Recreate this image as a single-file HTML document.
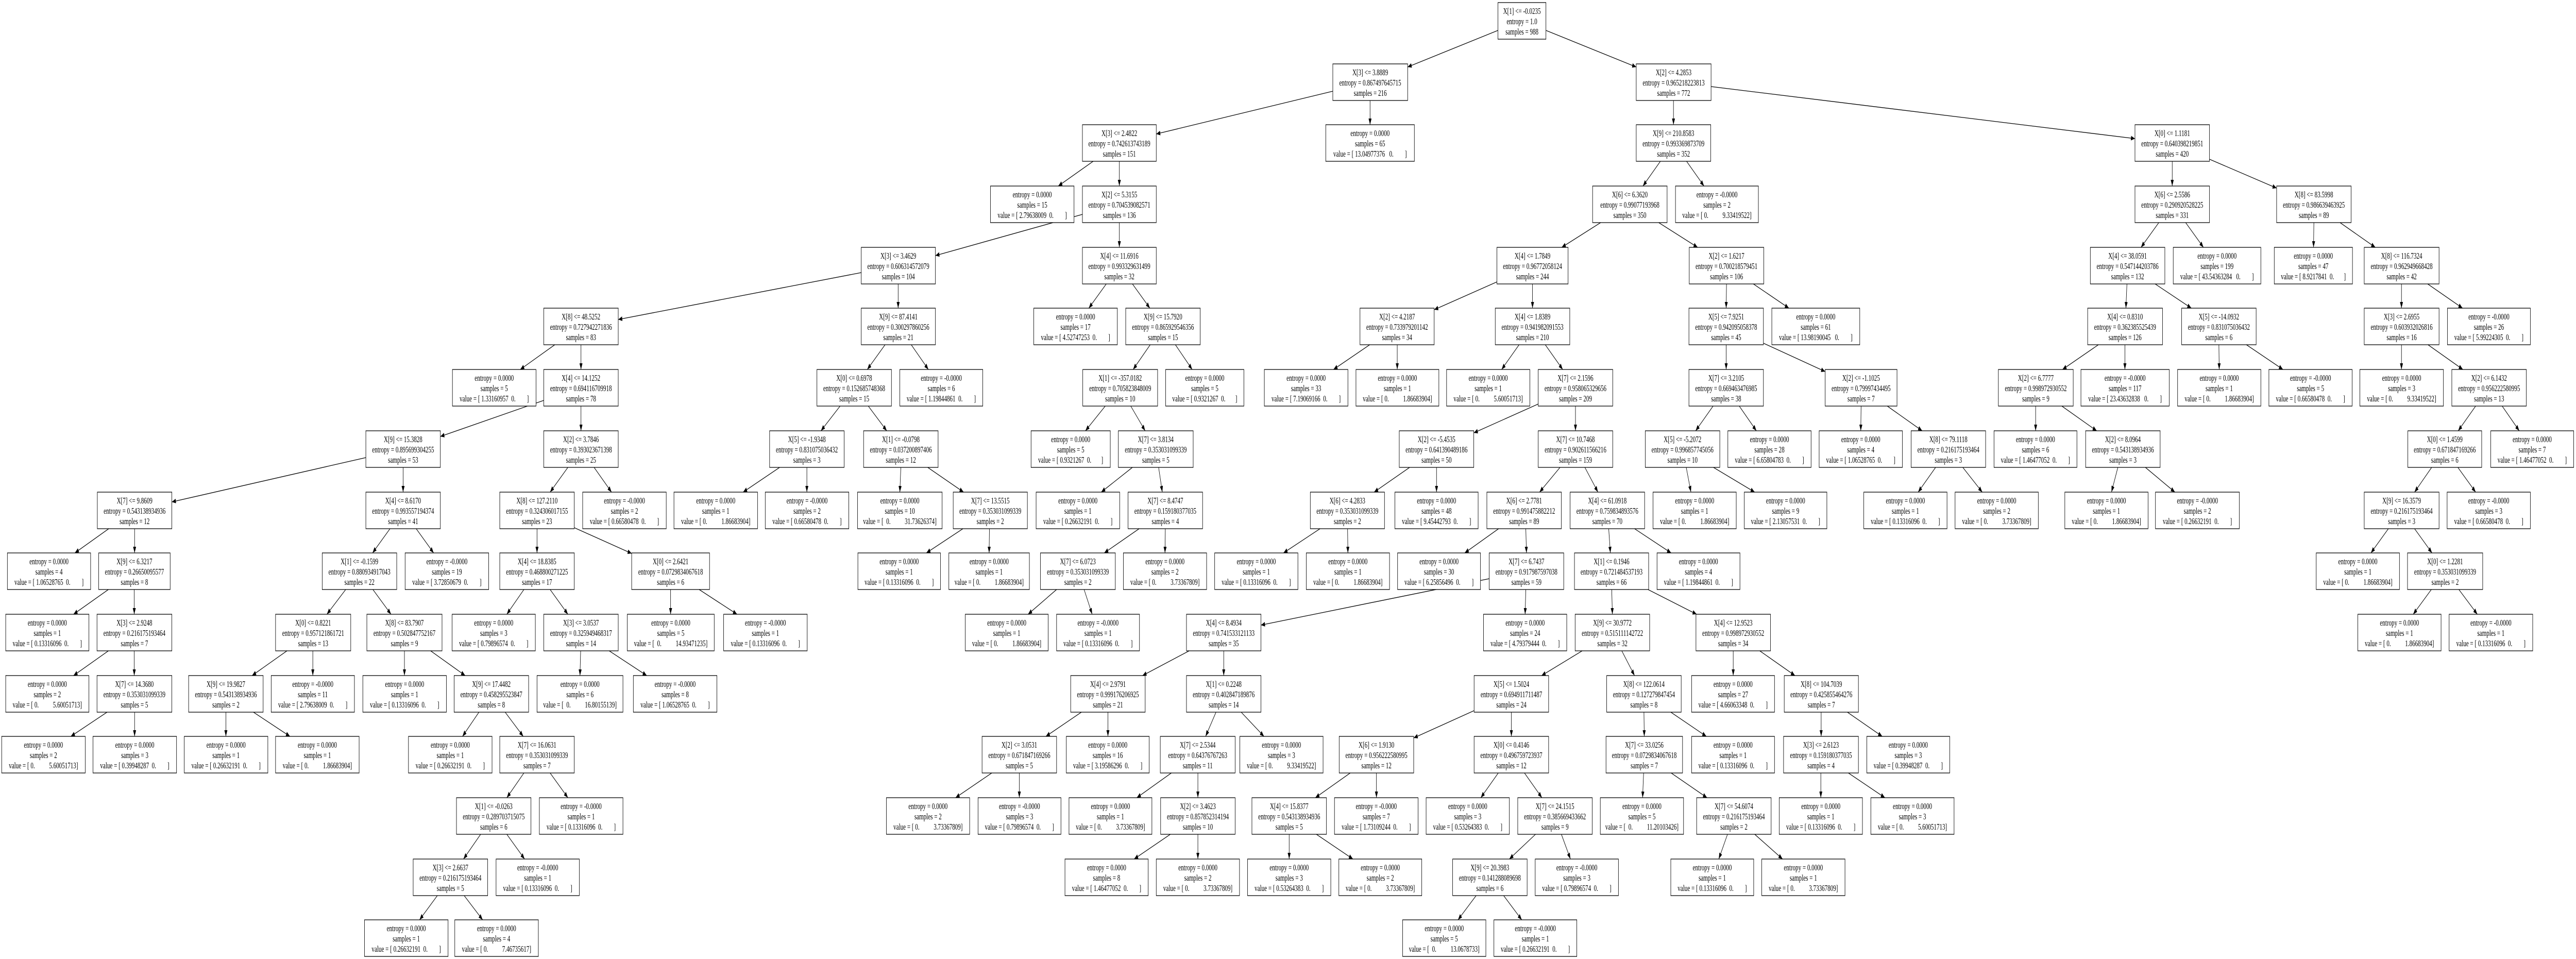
<!DOCTYPE html>
<html><head><meta charset="utf-8">
<style>
html,body{margin:0;padding:0;background:#fff;width:100vw;height:100vh;overflow:hidden;}
#root{display:block;position:fixed;left:0;top:0;width:100vw;height:100vh;}
svg svg{overflow:visible;}
text{font-family:"Liberation Serif","Times New Roman",serif;font-size:17px;text-anchor:middle;fill:#000;white-space:pre;}
rect{fill:#fff;stroke:#000;stroke-width:1.3;}
line{stroke:#000;stroke-width:1.3;}
</style></head>
<body>
<svg id="root" xmlns="http://www.w3.org/2000/svg" viewBox="0 0 7675 1861" preserveAspectRatio="none" xml:space="preserve">
<defs><marker id="a" viewBox="0 0 10 10" refX="10" refY="5" markerWidth="12" markerHeight="9" markerUnits="userSpaceOnUse" orient="auto" preserveAspectRatio="none"><path d="M0,0L10,5L0,10z" fill="#000"/></marker></defs>
<rect x="0" y="0" width="7675" height="1861" style="fill:#fff;stroke:none"/>
<g marker-end="url(#a)">
<line x1="4463" y1="59" x2="4194" y2="130"/>
<line x1="4606" y1="59" x2="4875" y2="130"/>
<line x1="3971" y1="177" x2="3445" y2="260"/>
<line x1="4082" y1="195" x2="4082" y2="242"/>
<line x1="4986" y1="195" x2="4986" y2="242"/>
<line x1="5098" y1="168" x2="6361" y2="269"/>
<line x1="3257" y1="313" x2="3153" y2="361"/>
<line x1="3335" y1="313" x2="3335" y2="361"/>
<line x1="4947" y1="313" x2="4895" y2="361"/>
<line x1="5025" y1="313" x2="5077" y2="361"/>
<line x1="6472" y1="313" x2="6472" y2="361"/>
<line x1="6583" y1="309" x2="6783" y2="365"/>
<line x1="3225" y1="416" x2="2787" y2="496"/>
<line x1="3335" y1="432" x2="3335" y2="480"/>
<line x1="4769" y1="432" x2="4653" y2="480"/>
<line x1="4942" y1="432" x2="5058" y2="480"/>
<line x1="6432" y1="432" x2="6379" y2="480"/>
<line x1="6512" y1="432" x2="6565" y2="480"/>
<line x1="6894" y1="432" x2="6893" y2="480"/>
<line x1="6972" y1="432" x2="7077" y2="480"/>
<line x1="2566" y1="529" x2="1842" y2="620"/>
<line x1="2676" y1="551" x2="2676" y2="598"/>
<line x1="3296" y1="551" x2="3244" y2="598"/>
<line x1="3374" y1="551" x2="3426" y2="598"/>
<line x1="4460" y1="547" x2="4273" y2="601"/>
<line x1="4566" y1="551" x2="4566" y2="598"/>
<line x1="5144" y1="551" x2="5143" y2="598"/>
<line x1="5224" y1="551" x2="5330" y2="598"/>
<line x1="6337" y1="551" x2="6334" y2="598"/>
<line x1="6421" y1="551" x2="6529" y2="598"/>
<line x1="7155" y1="551" x2="7155" y2="598"/>
<line x1="7233" y1="551" x2="7337" y2="598"/>
<line x1="1653" y1="669" x2="1550" y2="717"/>
<line x1="1731" y1="669" x2="1731" y2="717"/>
<line x1="2637" y1="669" x2="2584" y2="717"/>
<line x1="2715" y1="669" x2="2766" y2="717"/>
<line x1="3427" y1="669" x2="3376" y2="717"/>
<line x1="3502" y1="669" x2="3552" y2="717"/>
<line x1="4081" y1="669" x2="3973" y2="717"/>
<line x1="4163" y1="669" x2="4163" y2="717"/>
<line x1="4526" y1="669" x2="4474" y2="717"/>
<line x1="4604" y1="669" x2="4656" y2="717"/>
<line x1="5143" y1="669" x2="5143" y2="717"/>
<line x1="5254" y1="666" x2="5438" y2="721"/>
<line x1="6252" y1="669" x2="6145" y2="717"/>
<line x1="6331" y1="669" x2="6331" y2="717"/>
<line x1="6611" y1="669" x2="6612" y2="717"/>
<line x1="6693" y1="669" x2="6802" y2="717"/>
<line x1="7155" y1="669" x2="7155" y2="717"/>
<line x1="7234" y1="669" x2="7338" y2="717"/>
<line x1="1620" y1="777" x2="1312" y2="847"/>
<line x1="1731" y1="788" x2="1731" y2="836"/>
<line x1="2503" y1="788" x2="2446" y2="836"/>
<line x1="2587" y1="788" x2="2642" y2="836"/>
<line x1="3293" y1="788" x2="3234" y2="836"/>
<line x1="3369" y1="788" x2="3412" y2="836"/>
<line x1="4583" y1="784" x2="4391" y2="840"/>
<line x1="4694" y1="788" x2="4694" y2="836"/>
<line x1="5104" y1="788" x2="5052" y2="836"/>
<line x1="5182" y1="788" x2="5233" y2="836"/>
<line x1="5545" y1="788" x2="5544" y2="836"/>
<line x1="5623" y1="788" x2="5727" y2="836"/>
<line x1="6065" y1="788" x2="6065" y2="836"/>
<line x1="6143" y1="788" x2="6247" y2="836"/>
<line x1="7376" y1="788" x2="7324" y2="836"/>
<line x1="7455" y1="788" x2="7506" y2="836"/>
<line x1="1090" y1="888" x2="512" y2="974"/>
<line x1="1201" y1="907" x2="1201" y2="955"/>
<line x1="1692" y1="907" x2="1639" y2="955"/>
<line x1="1770" y1="907" x2="1822" y2="955"/>
<line x1="2323" y1="907" x2="2214" y2="955"/>
<line x1="2404" y1="907" x2="2404" y2="955"/>
<line x1="2684" y1="907" x2="2681" y2="955"/>
<line x1="2764" y1="907" x2="2871" y2="955"/>
<line x1="3374" y1="907" x2="3281" y2="955"/>
<line x1="3452" y1="907" x2="3463" y2="955"/>
<line x1="4200" y1="907" x2="4094" y2="955"/>
<line x1="4280" y1="907" x2="4280" y2="955"/>
<line x1="4648" y1="907" x2="4587" y2="955"/>
<line x1="4722" y1="907" x2="4761" y2="955"/>
<line x1="5024" y1="907" x2="5038" y2="955"/>
<line x1="5105" y1="907" x2="5228" y2="955"/>
<line x1="5767" y1="907" x2="5715" y2="955"/>
<line x1="5848" y1="907" x2="5906" y2="955"/>
<line x1="6310" y1="907" x2="6291" y2="955"/>
<line x1="6392" y1="907" x2="6480" y2="955"/>
<line x1="7245" y1="907" x2="7194" y2="955"/>
<line x1="7323" y1="907" x2="7376" y2="955"/>
<line x1="324" y1="1026" x2="223" y2="1073"/>
<line x1="401" y1="1026" x2="401" y2="1073"/>
<line x1="1162" y1="1026" x2="1110" y2="1073"/>
<line x1="1240" y1="1026" x2="1292" y2="1073"/>
<line x1="1600" y1="1026" x2="1600" y2="1073"/>
<line x1="1711" y1="1024" x2="1882" y2="1074"/>
<line x1="2869" y1="1026" x2="2760" y2="1073"/>
<line x1="2948" y1="1026" x2="2947" y2="1073"/>
<line x1="3394" y1="1026" x2="3290" y2="1073"/>
<line x1="3472" y1="1026" x2="3471" y2="1073"/>
<line x1="3933" y1="1026" x2="3824" y2="1073"/>
<line x1="4015" y1="1026" x2="4016" y2="1073"/>
<line x1="4465" y1="1026" x2="4364" y2="1073"/>
<line x1="4546" y1="1026" x2="4548" y2="1073"/>
<line x1="4793" y1="1026" x2="4798" y2="1073"/>
<line x1="4870" y1="1026" x2="4979" y2="1073"/>
<line x1="7116" y1="1026" x2="7064" y2="1073"/>
<line x1="7194" y1="1026" x2="7246" y2="1073"/>
<line x1="323" y1="1144" x2="219" y2="1192"/>
<line x1="400" y1="1144" x2="400" y2="1192"/>
<line x1="1030" y1="1144" x2="974" y2="1192"/>
<line x1="1111" y1="1144" x2="1165" y2="1192"/>
<line x1="1561" y1="1144" x2="1510" y2="1192"/>
<line x1="1639" y1="1144" x2="1692" y2="1192"/>
<line x1="1998" y1="1144" x2="1998" y2="1192"/>
<line x1="2083" y1="1144" x2="2196" y2="1192"/>
<line x1="3148" y1="1144" x2="3063" y2="1192"/>
<line x1="3230" y1="1144" x2="3254" y2="1192"/>
<line x1="4437" y1="1123" x2="3757" y2="1213"/>
<line x1="4546" y1="1144" x2="4544" y2="1192"/>
<line x1="4802" y1="1144" x2="4804" y2="1192"/>
<line x1="4910" y1="1144" x2="5055" y2="1192"/>
<line x1="7244" y1="1144" x2="7190" y2="1192"/>
<line x1="7326" y1="1144" x2="7381" y2="1192"/>
<line x1="323" y1="1263" x2="219" y2="1311"/>
<line x1="400" y1="1263" x2="400" y2="1311"/>
<line x1="855" y1="1263" x2="751" y2="1311"/>
<line x1="932" y1="1263" x2="932" y2="1311"/>
<line x1="1205" y1="1263" x2="1205" y2="1311"/>
<line x1="1283" y1="1263" x2="1386" y2="1311"/>
<line x1="1730" y1="1263" x2="1728" y2="1311"/>
<line x1="1815" y1="1263" x2="1927" y2="1311"/>
<line x1="3543" y1="1263" x2="3404" y2="1311"/>
<line x1="3646" y1="1263" x2="3646" y2="1311"/>
<line x1="4714" y1="1263" x2="4593" y2="1311"/>
<line x1="4832" y1="1263" x2="4870" y2="1311"/>
<line x1="5164" y1="1263" x2="5164" y2="1311"/>
<line x1="5243" y1="1263" x2="5348" y2="1311"/>
<line x1="319" y1="1382" x2="211" y2="1429"/>
<line x1="401" y1="1382" x2="401" y2="1429"/>
<line x1="673" y1="1382" x2="673" y2="1429"/>
<line x1="755" y1="1382" x2="864" y2="1429"/>
<line x1="1427" y1="1382" x2="1378" y2="1429"/>
<line x1="1505" y1="1382" x2="1559" y2="1429"/>
<line x1="3222" y1="1382" x2="3116" y2="1429"/>
<line x1="3301" y1="1382" x2="3301" y2="1429"/>
<line x1="3623" y1="1382" x2="3592" y2="1429"/>
<line x1="3698" y1="1382" x2="3766" y2="1429"/>
<line x1="4392" y1="1379" x2="4212" y2="1432"/>
<line x1="4503" y1="1382" x2="4503" y2="1429"/>
<line x1="4898" y1="1382" x2="4899" y2="1429"/>
<line x1="4978" y1="1382" x2="5084" y2="1429"/>
<line x1="5426" y1="1382" x2="5426" y2="1429"/>
<line x1="5504" y1="1382" x2="5608" y2="1429"/>
<line x1="1561" y1="1500" x2="1510" y2="1548"/>
<line x1="1639" y1="1500" x2="1692" y2="1548"/>
<line x1="2955" y1="1500" x2="2847" y2="1548"/>
<line x1="3037" y1="1500" x2="3037" y2="1548"/>
<line x1="3490" y1="1500" x2="3387" y2="1548"/>
<line x1="3569" y1="1500" x2="3569" y2="1548"/>
<line x1="4023" y1="1500" x2="3919" y2="1548"/>
<line x1="4101" y1="1500" x2="4101" y2="1548"/>
<line x1="4464" y1="1500" x2="4412" y2="1548"/>
<line x1="4542" y1="1500" x2="4594" y2="1548"/>
<line x1="4897" y1="1500" x2="4894" y2="1548"/>
<line x1="4979" y1="1500" x2="5086" y2="1548"/>
<line x1="5425" y1="1500" x2="5425" y2="1548"/>
<line x1="5507" y1="1500" x2="5616" y2="1548"/>
<line x1="1432" y1="1619" x2="1381" y2="1667"/>
<line x1="1510" y1="1619" x2="1563" y2="1667"/>
<line x1="3487" y1="1619" x2="3379" y2="1667"/>
<line x1="3569" y1="1619" x2="3569" y2="1667"/>
<line x1="3841" y1="1619" x2="3841" y2="1667"/>
<line x1="3922" y1="1619" x2="4031" y2="1667"/>
<line x1="4575" y1="1619" x2="4497" y2="1667"/>
<line x1="4652" y1="1619" x2="4679" y2="1667"/>
<line x1="5147" y1="1619" x2="5121" y2="1667"/>
<line x1="5228" y1="1619" x2="5311" y2="1667"/>
<line x1="1303" y1="1738" x2="1250" y2="1785"/>
<line x1="1383" y1="1738" x2="1438" y2="1785"/>
<line x1="4398" y1="1738" x2="4344" y2="1785"/>
<line x1="4480" y1="1738" x2="4534" y2="1785"/>
</g>

<svg x="4463" y="5" width="143" height="71"><rect width="100%" height="71"/><text x="50%" y="22">X[1] &lt;= -0.0235</text><text x="50%" y="42">entropy = 1.0</text><text x="50%" y="62">samples = 988</text></svg>
<svg x="3971" y="124" width="223" height="71"><rect width="100%" height="71"/><text x="50%" y="22">X[3] &lt;= 3.8889</text><text x="50%" y="42">entropy = 0.867497645715</text><text x="50%" y="62">samples = 216</text></svg>
<svg x="4875" y="124" width="223" height="71"><rect width="100%" height="71"/><text x="50%" y="22">X[2] &lt;= 4.2853</text><text x="50%" y="42">entropy = 0.965218223813</text><text x="50%" y="62">samples = 772</text></svg>
<svg x="3225" y="242" width="220" height="71"><rect width="100%" height="71"/><text x="50%" y="22">X[3] &lt;= 2.4822</text><text x="50%" y="42">entropy = 0.742613743189</text><text x="50%" y="62">samples = 151</text></svg>
<svg x="3950" y="242" width="264" height="71"><rect width="100%" height="71"/><text x="50%" y="22">entropy = 0.0000</text><text x="50%" y="42">samples = 65</text><text x="50%" y="62">value = [ 13.04977376   0.        ]</text></svg>
<svg x="4875" y="242" width="222" height="71"><rect width="100%" height="71"/><text x="50%" y="22">X[9] &lt;= 210.8583</text><text x="50%" y="42">entropy = 0.993369873709</text><text x="50%" y="62">samples = 352</text></svg>
<svg x="6361" y="242" width="222" height="71"><rect width="100%" height="71"/><text x="50%" y="22">X[0] &lt;= 1.1181</text><text x="50%" y="42">entropy = 0.640398219851</text><text x="50%" y="62">samples = 420</text></svg>
<svg x="2951" y="361" width="249" height="71"><rect width="100%" height="71"/><text x="50%" y="22">entropy = 0.0000</text><text x="50%" y="42">samples = 15</text><text x="50%" y="62">value = [ 2.79638009  0.        ]</text></svg>
<svg x="3225" y="361" width="220" height="71"><rect width="100%" height="71"/><text x="50%" y="22">X[2] &lt;= 5.3155</text><text x="50%" y="42">entropy = 0.704539082571</text><text x="50%" y="62">samples = 136</text></svg>
<svg x="4745" y="361" width="222" height="71"><rect width="100%" height="71"/><text x="50%" y="22">X[6] &lt;= 6.3620</text><text x="50%" y="42">entropy = 0.99077193968</text><text x="50%" y="62">samples = 350</text></svg>
<svg x="4992" y="361" width="247" height="71"><rect width="100%" height="71"/><text x="50%" y="22">entropy = -0.0000</text><text x="50%" y="42">samples = 2</text><text x="50%" y="62">value = [ 0.          9.33419522]</text></svg>
<svg x="6361" y="361" width="222" height="71"><rect width="100%" height="71"/><text x="50%" y="22">X[6] &lt;= 2.5586</text><text x="50%" y="42">entropy = 0.290920528225</text><text x="50%" y="62">samples = 331</text></svg>
<svg x="6783" y="361" width="222" height="71"><rect width="100%" height="71"/><text x="50%" y="22">X[8] &lt;= 83.5998</text><text x="50%" y="42">entropy = 0.986639463925</text><text x="50%" y="62">samples = 89</text></svg>
<svg x="2566" y="480" width="221" height="71"><rect width="100%" height="71"/><text x="50%" y="22">X[3] &lt;= 3.4629</text><text x="50%" y="42">entropy = 0.606314572079</text><text x="50%" y="62">samples = 104</text></svg>
<svg x="3225" y="480" width="220" height="71"><rect width="100%" height="71"/><text x="50%" y="22">X[4] &lt;= 11.6916</text><text x="50%" y="42">entropy = 0.993329631499</text><text x="50%" y="62">samples = 32</text></svg>
<svg x="4460" y="480" width="212" height="71"><rect width="100%" height="71"/><text x="50%" y="22">X[4] &lt;= 1.7849</text><text x="50%" y="42">entropy = 0.96772058124</text><text x="50%" y="62">samples = 244</text></svg>
<svg x="5033" y="480" width="222" height="71"><rect width="100%" height="71"/><text x="50%" y="22">X[2] &lt;= 1.6217</text><text x="50%" y="42">entropy = 0.700218579451</text><text x="50%" y="62">samples = 106</text></svg>
<svg x="6228" y="480" width="222" height="71"><rect width="100%" height="71"/><text x="50%" y="22">X[4] &lt;= 38.0591</text><text x="50%" y="42">entropy = 0.547144203786</text><text x="50%" y="62">samples = 132</text></svg>
<svg x="6475" y="480" width="261" height="71"><rect width="100%" height="71"/><text x="50%" y="22">entropy = 0.0000</text><text x="50%" y="42">samples = 199</text><text x="50%" y="62">value = [ 43.54363284   0.        ]</text></svg>
<svg x="6776" y="480" width="233" height="71"><rect width="100%" height="71"/><text x="50%" y="22">entropy = 0.0000</text><text x="50%" y="42">samples = 47</text><text x="50%" y="62">value = [ 8.9217841  0.       ]</text></svg>
<svg x="7044" y="480" width="223" height="71"><rect width="100%" height="71"/><text x="50%" y="22">X[8] &lt;= 116.7324</text><text x="50%" y="42">entropy = 0.962949668428</text><text x="50%" y="62">samples = 42</text></svg>
<svg x="1620" y="598" width="222" height="71"><rect width="100%" height="71"/><text x="50%" y="22">X[8] &lt;= 48.5252</text><text x="50%" y="42">entropy = 0.727942271836</text><text x="50%" y="62">samples = 83</text></svg>
<svg x="2566" y="598" width="221" height="71"><rect width="100%" height="71"/><text x="50%" y="22">X[9] &lt;= 87.4141</text><text x="50%" y="42">entropy = 0.300297860256</text><text x="50%" y="62">samples = 21</text></svg>
<svg x="3080" y="598" width="249" height="71"><rect width="100%" height="71"/><text x="50%" y="22">entropy = 0.0000</text><text x="50%" y="42">samples = 17</text><text x="50%" y="62">value = [ 4.52747253  0.        ]</text></svg>
<svg x="3354" y="598" width="222" height="71"><rect width="100%" height="71"/><text x="50%" y="22">X[9] &lt;= 15.7920</text><text x="50%" y="42">entropy = 0.865929546356</text><text x="50%" y="62">samples = 15</text></svg>
<svg x="4052" y="598" width="221" height="71"><rect width="100%" height="71"/><text x="50%" y="22">X[2] &lt;= 4.2187</text><text x="50%" y="42">entropy = 0.733979201142</text><text x="50%" y="62">samples = 34</text></svg>
<svg x="4455" y="598" width="222" height="71"><rect width="100%" height="71"/><text x="50%" y="22">X[4] &lt;= 1.8389</text><text x="50%" y="42">entropy = 0.941982091553</text><text x="50%" y="62">samples = 210</text></svg>
<svg x="5032" y="598" width="222" height="71"><rect width="100%" height="71"/><text x="50%" y="22">X[5] &lt;= 7.9251</text><text x="50%" y="42">entropy = 0.942095058378</text><text x="50%" y="62">samples = 45</text></svg>
<svg x="5279" y="598" width="262" height="71"><rect width="100%" height="71"/><text x="50%" y="22">entropy = 0.0000</text><text x="50%" y="42">samples = 61</text><text x="50%" y="62">value = [ 13.98190045   0.        ]</text></svg>
<svg x="6220" y="598" width="223" height="71"><rect width="100%" height="71"/><text x="50%" y="22">X[4] &lt;= 0.8310</text><text x="50%" y="42">entropy = 0.362385525439</text><text x="50%" y="62">samples = 126</text></svg>
<svg x="6500" y="598" width="222" height="71"><rect width="100%" height="71"/><text x="50%" y="22">X[5] &lt;= -14.0932</text><text x="50%" y="42">entropy = 0.831075036432</text><text x="50%" y="62">samples = 6</text></svg>
<svg x="7044" y="598" width="223" height="71"><rect width="100%" height="71"/><text x="50%" y="22">X[3] &lt;= 2.6955</text><text x="50%" y="42">entropy = 0.603932026816</text><text x="50%" y="62">samples = 16</text></svg>
<svg x="7292" y="598" width="247" height="71"><rect width="100%" height="71"/><text x="50%" y="22">entropy = -0.0000</text><text x="50%" y="42">samples = 26</text><text x="50%" y="62">value = [ 5.99224305  0.        ]</text></svg>
<svg x="1348" y="717" width="249" height="71"><rect width="100%" height="71"/><text x="50%" y="22">entropy = 0.0000</text><text x="50%" y="42">samples = 5</text><text x="50%" y="62">value = [ 1.33160957  0.        ]</text></svg>
<svg x="1620" y="717" width="222" height="71"><rect width="100%" height="71"/><text x="50%" y="22">X[4] &lt;= 14.1252</text><text x="50%" y="42">entropy = 0.694116709918</text><text x="50%" y="62">samples = 78</text></svg>
<svg x="2434" y="717" width="222" height="71"><rect width="100%" height="71"/><text x="50%" y="22">X[0] &lt;= 0.6978</text><text x="50%" y="42">entropy = 0.152685748368</text><text x="50%" y="62">samples = 15</text></svg>
<svg x="2681" y="717" width="247" height="71"><rect width="100%" height="71"/><text x="50%" y="22">entropy = -0.0000</text><text x="50%" y="42">samples = 6</text><text x="50%" y="62">value = [ 1.19844861  0.        ]</text></svg>
<svg x="3226" y="717" width="223" height="71"><rect width="100%" height="71"/><text x="50%" y="22">X[1] &lt;= -357.0182</text><text x="50%" y="42">entropy = 0.705823848009</text><text x="50%" y="62">samples = 10</text></svg>
<svg x="3473" y="717" width="233" height="71"><rect width="100%" height="71"/><text x="50%" y="22">entropy = 0.0000</text><text x="50%" y="42">samples = 5</text><text x="50%" y="62">value = [ 0.9321267  0.       ]</text></svg>
<svg x="3767" y="717" width="249" height="71"><rect width="100%" height="71"/><text x="50%" y="22">entropy = 0.0000</text><text x="50%" y="42">samples = 33</text><text x="50%" y="62">value = [ 7.19069166  0.        ]</text></svg>
<svg x="4040" y="717" width="247" height="71"><rect width="100%" height="71"/><text x="50%" y="22">entropy = 0.0000</text><text x="50%" y="42">samples = 1</text><text x="50%" y="62">value = [ 0.          1.86683904]</text></svg>
<svg x="4310" y="717" width="248" height="71"><rect width="100%" height="71"/><text x="50%" y="22">entropy = 0.0000</text><text x="50%" y="42">samples = 1</text><text x="50%" y="62">value = [ 0.          5.60051713]</text></svg>
<svg x="4583" y="717" width="222" height="71"><rect width="100%" height="71"/><text x="50%" y="22">X[7] &lt;= 2.1596</text><text x="50%" y="42">entropy = 0.958065329656</text><text x="50%" y="62">samples = 209</text></svg>
<svg x="5032" y="717" width="222" height="71"><rect width="100%" height="71"/><text x="50%" y="22">X[7] &lt;= 3.2105</text><text x="50%" y="42">entropy = 0.669463476985</text><text x="50%" y="62">samples = 38</text></svg>
<svg x="5438" y="717" width="214" height="71"><rect width="100%" height="71"/><text x="50%" y="22">X[2] &lt;= -1.1025</text><text x="50%" y="42">entropy = 0.79997434495</text><text x="50%" y="62">samples = 7</text></svg>
<svg x="5954" y="717" width="223" height="71"><rect width="100%" height="71"/><text x="50%" y="22">X[2] &lt;= 6.7777</text><text x="50%" y="42">entropy = 0.998972930552</text><text x="50%" y="62">samples = 9</text></svg>
<svg x="6200" y="717" width="263" height="71"><rect width="100%" height="71"/><text x="50%" y="22">entropy = -0.0000</text><text x="50%" y="42">samples = 117</text><text x="50%" y="62">value = [ 23.43632838   0.        ]</text></svg>
<svg x="6488" y="717" width="248" height="71"><rect width="100%" height="71"/><text x="50%" y="22">entropy = 0.0000</text><text x="50%" y="42">samples = 1</text><text x="50%" y="62">value = [ 0.          1.86683904]</text></svg>
<svg x="6760" y="717" width="248" height="71"><rect width="100%" height="71"/><text x="50%" y="22">entropy = -0.0000</text><text x="50%" y="42">samples = 5</text><text x="50%" y="62">value = [ 0.66580478  0.        ]</text></svg>
<svg x="7031" y="717" width="249" height="71"><rect width="100%" height="71"/><text x="50%" y="22">entropy = 0.0000</text><text x="50%" y="42">samples = 3</text><text x="50%" y="62">value = [ 0.          9.33419522]</text></svg>
<svg x="7305" y="717" width="222" height="71"><rect width="100%" height="71"/><text x="50%" y="22">X[2] &lt;= 6.1432</text><text x="50%" y="42">entropy = 0.956222580995</text><text x="50%" y="62">samples = 13</text></svg>
<svg x="1090" y="836" width="222" height="71"><rect width="100%" height="71"/><text x="50%" y="22">X[9] &lt;= 15.3828</text><text x="50%" y="42">entropy = 0.895699304255</text><text x="50%" y="62">samples = 53</text></svg>
<svg x="1620" y="836" width="222" height="71"><rect width="100%" height="71"/><text x="50%" y="22">X[2] &lt;= 3.7846</text><text x="50%" y="42">entropy = 0.393023671398</text><text x="50%" y="62">samples = 25</text></svg>
<svg x="2293" y="836" width="222" height="71"><rect width="100%" height="71"/><text x="50%" y="22">X[5] &lt;= -1.9348</text><text x="50%" y="42">entropy = 0.831075036432</text><text x="50%" y="62">samples = 3</text></svg>
<svg x="2573" y="836" width="222" height="71"><rect width="100%" height="71"/><text x="50%" y="22">X[1] &lt;= -0.0798</text><text x="50%" y="42">entropy = 0.037200897406</text><text x="50%" y="62">samples = 12</text></svg>
<svg x="3072" y="836" width="236" height="71"><rect width="100%" height="71"/><text x="50%" y="22">entropy = 0.0000</text><text x="50%" y="42">samples = 5</text><text x="50%" y="62">value = [ 0.9321267  0.       ]</text></svg>
<svg x="3332" y="836" width="223" height="71"><rect width="100%" height="71"/><text x="50%" y="22">X[7] &lt;= 3.8134</text><text x="50%" y="42">entropy = 0.353031099339</text><text x="50%" y="62">samples = 5</text></svg>
<svg x="4169" y="836" width="222" height="71"><rect width="100%" height="71"/><text x="50%" y="22">X[2] &lt;= -5.4535</text><text x="50%" y="42">entropy = 0.641390489186</text><text x="50%" y="62">samples = 50</text></svg>
<svg x="4583" y="836" width="222" height="71"><rect width="100%" height="71"/><text x="50%" y="22">X[7] &lt;= 10.7468</text><text x="50%" y="42">entropy = 0.902611566216</text><text x="50%" y="62">samples = 159</text></svg>
<svg x="4902" y="836" width="222" height="71"><rect width="100%" height="71"/><text x="50%" y="22">X[5] &lt;= -5.2072</text><text x="50%" y="42">entropy = 0.996857745056</text><text x="50%" y="62">samples = 10</text></svg>
<svg x="5148" y="836" width="248" height="71"><rect width="100%" height="71"/><text x="50%" y="22">entropy = 0.0000</text><text x="50%" y="42">samples = 28</text><text x="50%" y="62">value = [ 6.65804783  0.        ]</text></svg>
<svg x="5420" y="836" width="248" height="71"><rect width="100%" height="71"/><text x="50%" y="22">entropy = 0.0000</text><text x="50%" y="42">samples = 4</text><text x="50%" y="62">value = [ 1.06528765  0.        ]</text></svg>
<svg x="5694" y="836" width="222" height="71"><rect width="100%" height="71"/><text x="50%" y="22">X[8] &lt;= 79.1118</text><text x="50%" y="42">entropy = 0.216175193464</text><text x="50%" y="62">samples = 3</text></svg>
<svg x="5941" y="836" width="247" height="71"><rect width="100%" height="71"/><text x="50%" y="22">entropy = 0.0000</text><text x="50%" y="42">samples = 6</text><text x="50%" y="62">value = [ 1.46477052  0.        ]</text></svg>
<svg x="6214" y="836" width="222" height="71"><rect width="100%" height="71"/><text x="50%" y="22">X[2] &lt;= 8.0964</text><text x="50%" y="42">entropy = 0.543138934936</text><text x="50%" y="62">samples = 3</text></svg>
<svg x="7174" y="836" width="220" height="71"><rect width="100%" height="71"/><text x="50%" y="22">X[0] &lt;= 1.4599</text><text x="50%" y="42">entropy = 0.671847169266</text><text x="50%" y="62">samples = 6</text></svg>
<svg x="7421" y="836" width="247" height="71"><rect width="100%" height="71"/><text x="50%" y="22">entropy = 0.0000</text><text x="50%" y="42">samples = 7</text><text x="50%" y="62">value = [ 1.46477052  0.        ]</text></svg>
<svg x="290" y="955" width="222" height="71"><rect width="100%" height="71"/><text x="50%" y="22">X[7] &lt;= 9.8609</text><text x="50%" y="42">entropy = 0.543138934936</text><text x="50%" y="62">samples = 12</text></svg>
<svg x="1090" y="955" width="222" height="71"><rect width="100%" height="71"/><text x="50%" y="22">X[4] &lt;= 8.6170</text><text x="50%" y="42">entropy = 0.993557194374</text><text x="50%" y="62">samples = 41</text></svg>
<svg x="1489" y="955" width="222" height="71"><rect width="100%" height="71"/><text x="50%" y="22">X[8] &lt;= 127.2110</text><text x="50%" y="42">entropy = 0.324306017155</text><text x="50%" y="62">samples = 23</text></svg>
<svg x="1736" y="955" width="249" height="71"><rect width="100%" height="71"/><text x="50%" y="22">entropy = -0.0000</text><text x="50%" y="42">samples = 2</text><text x="50%" y="62">value = [ 0.66580478  0.        ]</text></svg>
<svg x="2008" y="955" width="249" height="71"><rect width="100%" height="71"/><text x="50%" y="22">entropy = 0.0000</text><text x="50%" y="42">samples = 1</text><text x="50%" y="62">value = [ 0.          1.86683904]</text></svg>
<svg x="2280" y="955" width="249" height="71"><rect width="100%" height="71"/><text x="50%" y="22">entropy = -0.0000</text><text x="50%" y="42">samples = 2</text><text x="50%" y="62">value = [ 0.66580478  0.        ]</text></svg>
<svg x="2555" y="955" width="252" height="71"><rect width="100%" height="71"/><text x="50%" y="22">entropy = 0.0000</text><text x="50%" y="42">samples = 10</text><text x="50%" y="62">value = [  0.          31.73626374]</text></svg>
<svg x="2840" y="955" width="221" height="71"><rect width="100%" height="71"/><text x="50%" y="22">X[7] &lt;= 13.5515</text><text x="50%" y="42">entropy = 0.353031099339</text><text x="50%" y="62">samples = 2</text></svg>
<svg x="3087" y="955" width="249" height="71"><rect width="100%" height="71"/><text x="50%" y="22">entropy = 0.0000</text><text x="50%" y="42">samples = 1</text><text x="50%" y="62">value = [ 0.26632191  0.        ]</text></svg>
<svg x="3361" y="955" width="222" height="71"><rect width="100%" height="71"/><text x="50%" y="22">X[7] &lt;= 8.4747</text><text x="50%" y="42">entropy = 0.159180377035</text><text x="50%" y="62">samples = 4</text></svg>
<svg x="3904" y="955" width="221" height="71"><rect width="100%" height="71"/><text x="50%" y="22">X[6] &lt;= 4.2833</text><text x="50%" y="42">entropy = 0.353031099339</text><text x="50%" y="62">samples = 2</text></svg>
<svg x="4156" y="955" width="248" height="71"><rect width="100%" height="71"/><text x="50%" y="22">entropy = 0.0000</text><text x="50%" y="42">samples = 48</text><text x="50%" y="62">value = [ 9.45442793  0.        ]</text></svg>
<svg x="4430" y="955" width="222" height="71"><rect width="100%" height="71"/><text x="50%" y="22">X[6] &lt;= 2.7781</text><text x="50%" y="42">entropy = 0.991475882212</text><text x="50%" y="62">samples = 89</text></svg>
<svg x="4678" y="955" width="222" height="71"><rect width="100%" height="71"/><text x="50%" y="22">X[4] &lt;= 61.0918</text><text x="50%" y="42">entropy = 0.759834893576</text><text x="50%" y="62">samples = 70</text></svg>
<svg x="4925" y="955" width="248" height="71"><rect width="100%" height="71"/><text x="50%" y="22">entropy = 0.0000</text><text x="50%" y="42">samples = 1</text><text x="50%" y="62">value = [ 0.          1.86683904]</text></svg>
<svg x="5197" y="955" width="246" height="71"><rect width="100%" height="71"/><text x="50%" y="22">entropy = 0.0000</text><text x="50%" y="42">samples = 9</text><text x="50%" y="62">value = [ 2.13057531  0.        ]</text></svg>
<svg x="5553" y="955" width="248" height="71"><rect width="100%" height="71"/><text x="50%" y="22">entropy = 0.0000</text><text x="50%" y="42">samples = 1</text><text x="50%" y="62">value = [ 0.13316096  0.        ]</text></svg>
<svg x="5825" y="955" width="248" height="71"><rect width="100%" height="71"/><text x="50%" y="22">entropy = 0.0000</text><text x="50%" y="42">samples = 2</text><text x="50%" y="62">value = [ 0.          3.73367809]</text></svg>
<svg x="6152" y="955" width="248" height="71"><rect width="100%" height="71"/><text x="50%" y="22">entropy = 0.0000</text><text x="50%" y="42">samples = 1</text><text x="50%" y="62">value = [ 0.          1.86683904]</text></svg>
<svg x="6422" y="955" width="250" height="71"><rect width="100%" height="71"/><text x="50%" y="22">entropy = -0.0000</text><text x="50%" y="42">samples = 2</text><text x="50%" y="62">value = [ 0.26632191  0.        ]</text></svg>
<svg x="7044" y="955" width="223" height="71"><rect width="100%" height="71"/><text x="50%" y="22">X[9] &lt;= 16.3579</text><text x="50%" y="42">entropy = 0.216175193464</text><text x="50%" y="62">samples = 3</text></svg>
<svg x="7291" y="955" width="248" height="71"><rect width="100%" height="71"/><text x="50%" y="22">entropy = -0.0000</text><text x="50%" y="42">samples = 3</text><text x="50%" y="62">value = [ 0.66580478  0.        ]</text></svg>
<svg x="22" y="1073" width="248" height="71"><rect width="100%" height="71"/><text x="50%" y="22">entropy = 0.0000</text><text x="50%" y="42">samples = 4</text><text x="50%" y="62">value = [ 1.06528765  0.        ]</text></svg>
<svg x="294" y="1073" width="213" height="71"><rect width="100%" height="71"/><text x="50%" y="22">X[9] &lt;= 6.3217</text><text x="50%" y="42">entropy = 0.26650095577</text><text x="50%" y="62">samples = 8</text></svg>
<svg x="960" y="1073" width="222" height="71"><rect width="100%" height="71"/><text x="50%" y="22">X[1] &lt;= -0.1599</text><text x="50%" y="42">entropy = 0.880934917043</text><text x="50%" y="62">samples = 22</text></svg>
<svg x="1207" y="1073" width="249" height="71"><rect width="100%" height="71"/><text x="50%" y="22">entropy = -0.0000</text><text x="50%" y="42">samples = 19</text><text x="50%" y="62">value = [ 3.72850679  0.        ]</text></svg>
<svg x="1489" y="1073" width="222" height="71"><rect width="100%" height="71"/><text x="50%" y="22">X[4] &lt;= 18.8385</text><text x="50%" y="42">entropy = 0.468800271225</text><text x="50%" y="62">samples = 17</text></svg>
<svg x="1882" y="1073" width="232" height="71"><rect width="100%" height="71"/><text x="50%" y="22">X[0] &lt;= 2.6421</text><text x="50%" y="42">entropy = 0.0729834067618</text><text x="50%" y="62">samples = 6</text></svg>
<svg x="2556" y="1073" width="246" height="71"><rect width="100%" height="71"/><text x="50%" y="22">entropy = 0.0000</text><text x="50%" y="42">samples = 1</text><text x="50%" y="62">value = [ 0.13316096  0.        ]</text></svg>
<svg x="2827" y="1073" width="240" height="71"><rect width="100%" height="71"/><text x="50%" y="22">entropy = 0.0000</text><text x="50%" y="42">samples = 1</text><text x="50%" y="62">value = [ 0.          1.86683904]</text></svg>
<svg x="3100" y="1073" width="223" height="71"><rect width="100%" height="71"/><text x="50%" y="22">X[7] &lt;= 6.0723</text><text x="50%" y="42">entropy = 0.353031099339</text><text x="50%" y="62">samples = 2</text></svg>
<svg x="3347" y="1073" width="248" height="71"><rect width="100%" height="71"/><text x="50%" y="22">entropy = 0.0000</text><text x="50%" y="42">samples = 2</text><text x="50%" y="62">value = [ 0.          3.73367809]</text></svg>
<svg x="3619" y="1073" width="248" height="71"><rect width="100%" height="71"/><text x="50%" y="22">entropy = 0.0000</text><text x="50%" y="42">samples = 1</text><text x="50%" y="62">value = [ 0.13316096  0.        ]</text></svg>
<svg x="3892" y="1073" width="248" height="71"><rect width="100%" height="71"/><text x="50%" y="22">entropy = 0.0000</text><text x="50%" y="42">samples = 1</text><text x="50%" y="62">value = [ 0.          1.86683904]</text></svg>
<svg x="4164" y="1073" width="247" height="71"><rect width="100%" height="71"/><text x="50%" y="22">entropy = 0.0000</text><text x="50%" y="42">samples = 30</text><text x="50%" y="62">value = [ 6.25856496  0.        ]</text></svg>
<svg x="4437" y="1073" width="222" height="71"><rect width="100%" height="71"/><text x="50%" y="22">X[7] &lt;= 6.7437</text><text x="50%" y="42">entropy = 0.917987597038</text><text x="50%" y="62">samples = 59</text></svg>
<svg x="4691" y="1073" width="221" height="71"><rect width="100%" height="71"/><text x="50%" y="22">X[1] &lt;= 0.1946</text><text x="50%" y="42">entropy = 0.721484537193</text><text x="50%" y="62">samples = 66</text></svg>
<svg x="4937" y="1073" width="247" height="71"><rect width="100%" height="71"/><text x="50%" y="22">entropy = 0.0000</text><text x="50%" y="42">samples = 4</text><text x="50%" y="62">value = [ 1.19844861  0.        ]</text></svg>
<svg x="6901" y="1073" width="248" height="71"><rect width="100%" height="71"/><text x="50%" y="22">entropy = 0.0000</text><text x="50%" y="42">samples = 1</text><text x="50%" y="62">value = [ 0.          1.86683904]</text></svg>
<svg x="7173" y="1073" width="224" height="71"><rect width="100%" height="71"/><text x="50%" y="22">X[0] &lt;= 1.2281</text><text x="50%" y="42">entropy = 0.353031099339</text><text x="50%" y="62">samples = 2</text></svg>
<svg x="17" y="1192" width="248" height="71"><rect width="100%" height="71"/><text x="50%" y="22">entropy = 0.0000</text><text x="50%" y="42">samples = 1</text><text x="50%" y="62">value = [ 0.13316096  0.        ]</text></svg>
<svg x="289" y="1192" width="223" height="71"><rect width="100%" height="71"/><text x="50%" y="22">X[3] &lt;= 2.9248</text><text x="50%" y="42">entropy = 0.216175193464</text><text x="50%" y="62">samples = 7</text></svg>
<svg x="821" y="1192" width="224" height="71"><rect width="100%" height="71"/><text x="50%" y="22">X[0] &lt;= 0.8221</text><text x="50%" y="42">entropy = 0.957121861721</text><text x="50%" y="62">samples = 13</text></svg>
<svg x="1093" y="1192" width="224" height="71"><rect width="100%" height="71"/><text x="50%" y="22">X[8] &lt;= 83.7907</text><text x="50%" y="42">entropy = 0.502847752167</text><text x="50%" y="62">samples = 9</text></svg>
<svg x="1347" y="1192" width="248" height="71"><rect width="100%" height="71"/><text x="50%" y="22">entropy = 0.0000</text><text x="50%" y="42">samples = 3</text><text x="50%" y="62">value = [ 0.79896574  0.        ]</text></svg>
<svg x="1620" y="1192" width="222" height="71"><rect width="100%" height="71"/><text x="50%" y="22">X[3] &lt;= 3.0537</text><text x="50%" y="42">entropy = 0.325949468317</text><text x="50%" y="62">samples = 14</text></svg>
<svg x="1869" y="1192" width="259" height="71"><rect width="100%" height="71"/><text x="50%" y="22">entropy = 0.0000</text><text x="50%" y="42">samples = 5</text><text x="50%" y="62">value = [  0.          14.93471235]</text></svg>
<svg x="2156" y="1192" width="249" height="71"><rect width="100%" height="71"/><text x="50%" y="22">entropy = -0.0000</text><text x="50%" y="42">samples = 1</text><text x="50%" y="62">value = [ 0.13316096  0.        ]</text></svg>
<svg x="2876" y="1192" width="247" height="71"><rect width="100%" height="71"/><text x="50%" y="22">entropy = 0.0000</text><text x="50%" y="42">samples = 1</text><text x="50%" y="62">value = [ 0.          1.86683904]</text></svg>
<svg x="3148" y="1192" width="247" height="71"><rect width="100%" height="71"/><text x="50%" y="22">entropy = -0.0000</text><text x="50%" y="42">samples = 1</text><text x="50%" y="62">value = [ 0.13316096  0.        ]</text></svg>
<svg x="3535" y="1192" width="222" height="71"><rect width="100%" height="71"/><text x="50%" y="22">X[4] &lt;= 8.4934</text><text x="50%" y="42">entropy = 0.741533121133</text><text x="50%" y="62">samples = 35</text></svg>
<svg x="4420" y="1192" width="248" height="71"><rect width="100%" height="71"/><text x="50%" y="22">entropy = 0.0000</text><text x="50%" y="42">samples = 24</text><text x="50%" y="62">value = [ 4.79379444  0.        ]</text></svg>
<svg x="4693" y="1192" width="222" height="71"><rect width="100%" height="71"/><text x="50%" y="22">X[9] &lt;= 30.9772</text><text x="50%" y="42">entropy = 0.515111142722</text><text x="50%" y="62">samples = 32</text></svg>
<svg x="5053" y="1192" width="222" height="71"><rect width="100%" height="71"/><text x="50%" y="22">X[4] &lt;= 12.9523</text><text x="50%" y="42">entropy = 0.998972930552</text><text x="50%" y="62">samples = 34</text></svg>
<svg x="7025" y="1192" width="248" height="71"><rect width="100%" height="71"/><text x="50%" y="22">entropy = 0.0000</text><text x="50%" y="42">samples = 1</text><text x="50%" y="62">value = [ 0.          1.86683904]</text></svg>
<svg x="7297" y="1192" width="249" height="71"><rect width="100%" height="71"/><text x="50%" y="22">entropy = -0.0000</text><text x="50%" y="42">samples = 1</text><text x="50%" y="62">value = [ 0.13316096  0.        ]</text></svg>
<svg x="17" y="1311" width="248" height="71"><rect width="100%" height="71"/><text x="50%" y="22">entropy = 0.0000</text><text x="50%" y="42">samples = 2</text><text x="50%" y="62">value = [ 0.          5.60051713]</text></svg>
<svg x="289" y="1311" width="223" height="71"><rect width="100%" height="71"/><text x="50%" y="22">X[7] &lt;= 14.3680</text><text x="50%" y="42">entropy = 0.353031099339</text><text x="50%" y="62">samples = 5</text></svg>
<svg x="562" y="1311" width="222" height="71"><rect width="100%" height="71"/><text x="50%" y="22">X[9] &lt;= 19.9827</text><text x="50%" y="42">entropy = 0.543138934936</text><text x="50%" y="62">samples = 2</text></svg>
<svg x="808" y="1311" width="248" height="71"><rect width="100%" height="71"/><text x="50%" y="22">entropy = -0.0000</text><text x="50%" y="42">samples = 11</text><text x="50%" y="62">value = [ 2.79638009  0.        ]</text></svg>
<svg x="1081" y="1311" width="249" height="71"><rect width="100%" height="71"/><text x="50%" y="22">entropy = 0.0000</text><text x="50%" y="42">samples = 1</text><text x="50%" y="62">value = [ 0.13316096  0.        ]</text></svg>
<svg x="1353" y="1311" width="222" height="71"><rect width="100%" height="71"/><text x="50%" y="22">X[9] &lt;= 17.4482</text><text x="50%" y="42">entropy = 0.458295523847</text><text x="50%" y="62">samples = 8</text></svg>
<svg x="1600" y="1311" width="256" height="71"><rect width="100%" height="71"/><text x="50%" y="22">entropy = 0.0000</text><text x="50%" y="42">samples = 6</text><text x="50%" y="62">value = [  0.          16.80155139]</text></svg>
<svg x="1887" y="1311" width="249" height="71"><rect width="100%" height="71"/><text x="50%" y="22">entropy = -0.0000</text><text x="50%" y="42">samples = 8</text><text x="50%" y="62">value = [ 1.06528765  0.        ]</text></svg>
<svg x="3190" y="1311" width="222" height="71"><rect width="100%" height="71"/><text x="50%" y="22">X[4] &lt;= 2.9791</text><text x="50%" y="42">entropy = 0.999176206925</text><text x="50%" y="62">samples = 21</text></svg>
<svg x="3535" y="1311" width="222" height="71"><rect width="100%" height="71"/><text x="50%" y="22">X[1] &lt;= 0.2248</text><text x="50%" y="42">entropy = 0.402847189876</text><text x="50%" y="62">samples = 14</text></svg>
<svg x="4392" y="1311" width="222" height="71"><rect width="100%" height="71"/><text x="50%" y="22">X[5] &lt;= 1.5024</text><text x="50%" y="42">entropy = 0.694911711487</text><text x="50%" y="62">samples = 24</text></svg>
<svg x="4787" y="1311" width="222" height="71"><rect width="100%" height="71"/><text x="50%" y="22">X[8] &lt;= 122.0614</text><text x="50%" y="42">entropy = 0.127279847454</text><text x="50%" y="62">samples = 8</text></svg>
<svg x="5040" y="1311" width="247" height="71"><rect width="100%" height="71"/><text x="50%" y="22">entropy = 0.0000</text><text x="50%" y="42">samples = 27</text><text x="50%" y="62">value = [ 4.66063348  0.        ]</text></svg>
<svg x="5316" y="1311" width="221" height="71"><rect width="100%" height="71"/><text x="50%" y="22">X[8] &lt;= 104.7039</text><text x="50%" y="42">entropy = 0.425855464276</text><text x="50%" y="62">samples = 7</text></svg>
<svg x="5" y="1429" width="249" height="71"><rect width="100%" height="71"/><text x="50%" y="22">entropy = 0.0000</text><text x="50%" y="42">samples = 2</text><text x="50%" y="62">value = [ 0.          5.60051713]</text></svg>
<svg x="277" y="1429" width="249" height="71"><rect width="100%" height="71"/><text x="50%" y="22">entropy = 0.0000</text><text x="50%" y="42">samples = 3</text><text x="50%" y="62">value = [ 0.39948287  0.        ]</text></svg>
<svg x="549" y="1429" width="249" height="71"><rect width="100%" height="71"/><text x="50%" y="22">entropy = 0.0000</text><text x="50%" y="42">samples = 1</text><text x="50%" y="62">value = [ 0.26632191  0.        ]</text></svg>
<svg x="821" y="1429" width="249" height="71"><rect width="100%" height="71"/><text x="50%" y="22">entropy = 0.0000</text><text x="50%" y="42">samples = 1</text><text x="50%" y="62">value = [ 0.          1.86683904]</text></svg>
<svg x="1217" y="1429" width="249" height="71"><rect width="100%" height="71"/><text x="50%" y="22">entropy = 0.0000</text><text x="50%" y="42">samples = 1</text><text x="50%" y="62">value = [ 0.26632191  0.        ]</text></svg>
<svg x="1489" y="1429" width="222" height="71"><rect width="100%" height="71"/><text x="50%" y="22">X[7] &lt;= 16.0631</text><text x="50%" y="42">entropy = 0.353031099339</text><text x="50%" y="62">samples = 7</text></svg>
<svg x="2926" y="1429" width="222" height="71"><rect width="100%" height="71"/><text x="50%" y="22">X[2] &lt;= 3.0531</text><text x="50%" y="42">entropy = 0.671847169266</text><text x="50%" y="62">samples = 5</text></svg>
<svg x="3177" y="1429" width="247" height="71"><rect width="100%" height="71"/><text x="50%" y="22">entropy = 0.0000</text><text x="50%" y="42">samples = 16</text><text x="50%" y="62">value = [ 3.19586296  0.        ]</text></svg>
<svg x="3457" y="1429" width="223" height="71"><rect width="100%" height="71"/><text x="50%" y="22">X[7] &lt;= 2.5344</text><text x="50%" y="42">entropy = 0.64376767263</text><text x="50%" y="62">samples = 11</text></svg>
<svg x="3694" y="1429" width="248" height="71"><rect width="100%" height="71"/><text x="50%" y="22">entropy = 0.0000</text><text x="50%" y="42">samples = 3</text><text x="50%" y="62">value = [ 0.          9.33419522]</text></svg>
<svg x="3990" y="1429" width="222" height="71"><rect width="100%" height="71"/><text x="50%" y="22">X[6] &lt;= 1.9130</text><text x="50%" y="42">entropy = 0.956222580995</text><text x="50%" y="62">samples = 12</text></svg>
<svg x="4392" y="1429" width="222" height="71"><rect width="100%" height="71"/><text x="50%" y="22">X[0] &lt;= 0.4146</text><text x="50%" y="42">entropy = 0.496759723937</text><text x="50%" y="62">samples = 12</text></svg>
<svg x="4785" y="1429" width="228" height="71"><rect width="100%" height="71"/><text x="50%" y="22">X[7] &lt;= 33.0256</text><text x="50%" y="42">entropy = 0.0729834067618</text><text x="50%" y="62">samples = 7</text></svg>
<svg x="5040" y="1429" width="247" height="71"><rect width="100%" height="71"/><text x="50%" y="22">entropy = 0.0000</text><text x="50%" y="42">samples = 1</text><text x="50%" y="62">value = [ 0.13316096  0.        ]</text></svg>
<svg x="5314" y="1429" width="223" height="71"><rect width="100%" height="71"/><text x="50%" y="22">X[3] &lt;= 2.6123</text><text x="50%" y="42">entropy = 0.159180377035</text><text x="50%" y="62">samples = 4</text></svg>
<svg x="5562" y="1429" width="247" height="71"><rect width="100%" height="71"/><text x="50%" y="22">entropy = 0.0000</text><text x="50%" y="42">samples = 3</text><text x="50%" y="62">value = [ 0.39948287  0.        ]</text></svg>
<svg x="1360" y="1548" width="222" height="71"><rect width="100%" height="71"/><text x="50%" y="22">X[1] &lt;= -0.0263</text><text x="50%" y="42">entropy = 0.289703715075</text><text x="50%" y="62">samples = 6</text></svg>
<svg x="1607" y="1548" width="249" height="71"><rect width="100%" height="71"/><text x="50%" y="22">entropy = -0.0000</text><text x="50%" y="42">samples = 1</text><text x="50%" y="62">value = [ 0.13316096  0.        ]</text></svg>
<svg x="2641" y="1548" width="248" height="71"><rect width="100%" height="71"/><text x="50%" y="22">entropy = 0.0000</text><text x="50%" y="42">samples = 2</text><text x="50%" y="62">value = [ 0.          3.73367809]</text></svg>
<svg x="2914" y="1548" width="247" height="71"><rect width="100%" height="71"/><text x="50%" y="22">entropy = -0.0000</text><text x="50%" y="42">samples = 3</text><text x="50%" y="62">value = [ 0.79896574  0.        ]</text></svg>
<svg x="3185" y="1548" width="247" height="71"><rect width="100%" height="71"/><text x="50%" y="22">entropy = 0.0000</text><text x="50%" y="42">samples = 1</text><text x="50%" y="62">value = [ 0.          3.73367809]</text></svg>
<svg x="3458" y="1548" width="222" height="71"><rect width="100%" height="71"/><text x="50%" y="22">X[2] &lt;= 3.4623</text><text x="50%" y="42">entropy = 0.857852314194</text><text x="50%" y="62">samples = 10</text></svg>
<svg x="3730" y="1548" width="222" height="71"><rect width="100%" height="71"/><text x="50%" y="22">X[4] &lt;= 15.8377</text><text x="50%" y="42">entropy = 0.543138934936</text><text x="50%" y="62">samples = 5</text></svg>
<svg x="3976" y="1548" width="249" height="71"><rect width="100%" height="71"/><text x="50%" y="22">entropy = -0.0000</text><text x="50%" y="42">samples = 7</text><text x="50%" y="62">value = [ 1.73109244  0.        ]</text></svg>
<svg x="4249" y="1548" width="248" height="71"><rect width="100%" height="71"/><text x="50%" y="22">entropy = 0.0000</text><text x="50%" y="42">samples = 3</text><text x="50%" y="62">value = [ 0.53264383  0.        ]</text></svg>
<svg x="4522" y="1548" width="222" height="71"><rect width="100%" height="71"/><text x="50%" y="22">X[7] &lt;= 24.1515</text><text x="50%" y="42">entropy = 0.385669433662</text><text x="50%" y="62">samples = 9</text></svg>
<svg x="4768" y="1548" width="248" height="71"><rect width="100%" height="71"/><text x="50%" y="22">entropy = 0.0000</text><text x="50%" y="42">samples = 5</text><text x="50%" y="62">value = [  0.          11.20103426]</text></svg>
<svg x="5055" y="1548" width="222" height="71"><rect width="100%" height="71"/><text x="50%" y="22">X[7] &lt;= 54.6074</text><text x="50%" y="42">entropy = 0.216175193464</text><text x="50%" y="62">samples = 2</text></svg>
<svg x="5301" y="1548" width="248" height="71"><rect width="100%" height="71"/><text x="50%" y="22">entropy = 0.0000</text><text x="50%" y="42">samples = 1</text><text x="50%" y="62">value = [ 0.13316096  0.        ]</text></svg>
<svg x="5574" y="1548" width="248" height="71"><rect width="100%" height="71"/><text x="50%" y="22">entropy = 0.0000</text><text x="50%" y="42">samples = 3</text><text x="50%" y="62">value = [ 0.          5.60051713]</text></svg>
<svg x="1231" y="1667" width="222" height="71"><rect width="100%" height="71"/><text x="50%" y="22">X[3] &lt;= 2.6637</text><text x="50%" y="42">entropy = 0.216175193464</text><text x="50%" y="62">samples = 5</text></svg>
<svg x="1478" y="1667" width="248" height="71"><rect width="100%" height="71"/><text x="50%" y="22">entropy = -0.0000</text><text x="50%" y="42">samples = 1</text><text x="50%" y="62">value = [ 0.13316096  0.        ]</text></svg>
<svg x="3173" y="1667" width="248" height="71"><rect width="100%" height="71"/><text x="50%" y="22">entropy = 0.0000</text><text x="50%" y="42">samples = 8</text><text x="50%" y="62">value = [ 1.46477052  0.        ]</text></svg>
<svg x="3445" y="1667" width="248" height="71"><rect width="100%" height="71"/><text x="50%" y="22">entropy = 0.0000</text><text x="50%" y="42">samples = 2</text><text x="50%" y="62">value = [ 0.          3.73367809]</text></svg>
<svg x="3717" y="1667" width="248" height="71"><rect width="100%" height="71"/><text x="50%" y="22">entropy = 0.0000</text><text x="50%" y="42">samples = 3</text><text x="50%" y="62">value = [ 0.53264383  0.        ]</text></svg>
<svg x="3989" y="1667" width="247" height="71"><rect width="100%" height="71"/><text x="50%" y="22">entropy = 0.0000</text><text x="50%" y="42">samples = 2</text><text x="50%" y="62">value = [ 0.          3.73367809]</text></svg>
<svg x="4328" y="1667" width="222" height="71"><rect width="100%" height="71"/><text x="50%" y="22">X[9] &lt;= 20.3983</text><text x="50%" y="42">entropy = 0.141288089698</text><text x="50%" y="62">samples = 6</text></svg>
<svg x="4574" y="1667" width="248" height="71"><rect width="100%" height="71"/><text x="50%" y="22">entropy = -0.0000</text><text x="50%" y="42">samples = 3</text><text x="50%" y="62">value = [ 0.79896574  0.        ]</text></svg>
<svg x="4978" y="1667" width="247" height="71"><rect width="100%" height="71"/><text x="50%" y="22">entropy = 0.0000</text><text x="50%" y="42">samples = 1</text><text x="50%" y="62">value = [ 0.13316096  0.        ]</text></svg>
<svg x="5249" y="1667" width="248" height="71"><rect width="100%" height="71"/><text x="50%" y="22">entropy = 0.0000</text><text x="50%" y="42">samples = 1</text><text x="50%" y="62">value = [ 0.          3.73367809]</text></svg>
<svg x="1086" y="1785" width="249" height="71"><rect width="100%" height="71"/><text x="50%" y="22">entropy = 0.0000</text><text x="50%" y="42">samples = 1</text><text x="50%" y="62">value = [ 0.26632191  0.        ]</text></svg>
<svg x="1355" y="1785" width="249" height="71"><rect width="100%" height="71"/><text x="50%" y="22">entropy = 0.0000</text><text x="50%" y="42">samples = 4</text><text x="50%" y="62">value = [ 0.          7.46735617]</text></svg>
<svg x="4179" y="1785" width="248" height="71"><rect width="100%" height="71"/><text x="50%" y="22">entropy = 0.0000</text><text x="50%" y="42">samples = 5</text><text x="50%" y="62">value = [  0.          13.0678733]</text></svg>
<svg x="4451" y="1785" width="247" height="71"><rect width="100%" height="71"/><text x="50%" y="22">entropy = -0.0000</text><text x="50%" y="42">samples = 1</text><text x="50%" y="62">value = [ 0.26632191  0.        ]</text></svg>
</svg>
</body></html>
